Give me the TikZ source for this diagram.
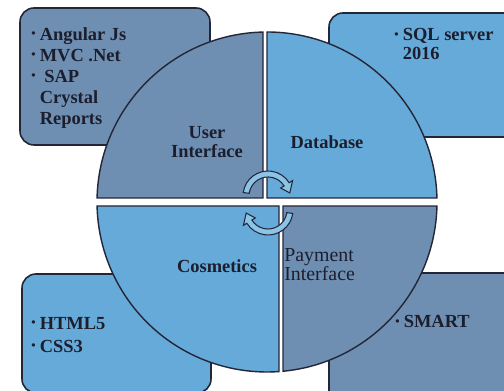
\documentclass[tikz,border=0pt]{standalone}
\usepackage{fontspec}
\setmainfont{Liberation Serif}
\usetikzlibrary{positioning}

\definecolor{grayblue}{RGB}{110,143,178}
\definecolor{skyblue}{RGB}{102,170,218}
\definecolor{arrowblue}{RGB}{140,196,232}
\definecolor{edgeline}{RGB}{35,38,55}
\definecolor{ink}{RGB}{28,30,45}

\newcommand{\itemdot}{\makebox[4.8pt][l]{\raisebox{1.4pt}{\scriptsize\textbullet}}}

\begin{document}
\begin{tikzpicture}[x=0.02cm, y=0.02cm,
  box/.style={draw=edgeline, line width=0.9pt, rounded corners=0.28cm},
  piece/.style={draw=edgeline, line width=0.8pt},
  cyclearrow/.style={draw=edgeline, line width=0.6pt, fill=arrowblue},
  partname/.style={text=ink, font=\bfseries\fontsize{10.5}{11}\selectfont, inner sep=0pt},
  itemlist/.style={text=ink, font=\bfseries\fontsize{10.5}{12}\selectfont, inner sep=0pt, align=left, anchor=north west}]
\clip (0,0) rectangle (504,391);

% boxes behind the circle
\draw[box, fill=grayblue] (20,383) rectangle (210,246);
\draw[box, fill=skyblue] (329,378) rectangle (520,254);
\draw[box, fill=skyblue] (22,117) rectangle (211,-2);
\draw[box, fill=grayblue] (329,118) rectangle (520,-20);

% the four quarters
\draw[piece, fill=grayblue] (263,193) -- (263,358.95) arc[start angle=91.35, end angle=178.65, radius=170] -- cycle;
\draw[piece, fill=skyblue] (267,193) -- (436.95,193) arc[start angle=1.35, end angle=90, radius=170] -- cycle;
\draw[piece, fill=skyblue] (279,185) -- (97.05,185) arc[start angle=181.35, end angle=274.05, radius=170] -- cycle;
\draw[piece, fill=grayblue] (283,185) -- (283,19.75) arc[start angle=-84.6, end angle=-1.35, radius=170] -- cycle;

% cycle arrows in the middle
\foreach \cy/\rot in {195/0, 181/180}
  \draw[cyclearrow, shift={(268,\cy)}, rotate=\rot]
    (172:25) arc[start angle=172, end angle=32, radius=25] -- (32:29) -- (8:22)
    -- (32:15) -- (32:19) arc[start angle=32, end angle=172, radius=19] -- cycle;

% quarter names
\node[partname, align=center] (ui) at (207,249) {User\\Interface};
\node[partname] (db) at (327,249) {Database};
\node[partname] (cosmetics) at (217,125) {Cosmetics};
\node[partname, font=\fontsize{11.3}{11}\selectfont, anchor=north west, align=left] (payment) at (284,143) {Payment\\Interface};

% box contents
\node[itemlist] (uilist) at (31,364) {\itemdot Angular Js\\ \itemdot MVC .Net\\ \itemdot\ SAP\\ \hspace*{4.8pt}Crystal\\ \hspace*{4.8pt}Reports};
\node[itemlist, font=\bfseries\fontsize{10.5}{11}\selectfont] (dblist) at (394,363) {\itemdot SQL server\\ \hspace*{4.8pt}2016};
\node[itemlist, font=\bfseries\fontsize{10.5}{13}\selectfont] (weblist) at (31,74) {\itemdot HTML5\\ \itemdot CSS3};
\node[itemlist] (paylist) at (395,76) {\itemdot SMART};
\end{tikzpicture}
\end{document}
